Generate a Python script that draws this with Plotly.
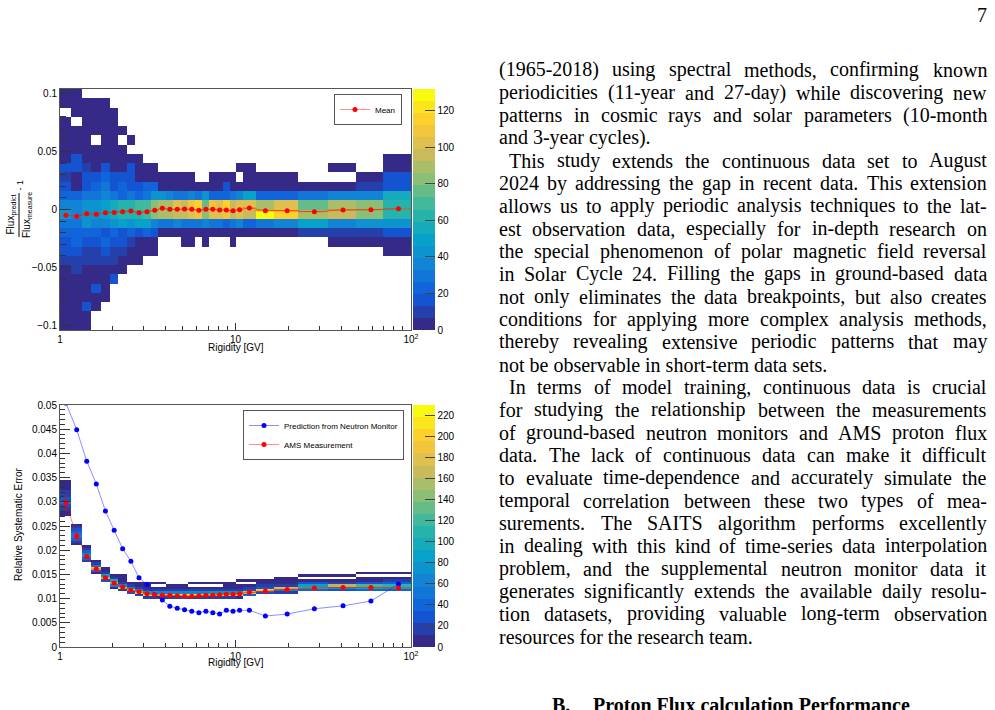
import numpy as np
import plotly.graph_objects as go

W, H = 995, 710

# ---------------------------------------------------------------- data
rigidity_edges = [1.00, 1.16, 1.33, 1.51, 1.71, 1.92, 2.15, 2.40, 2.67, 2.97, 3.29,
                  3.64, 4.02, 4.43, 4.88, 5.37, 5.90, 6.47, 7.09, 7.76, 8.48, 9.26,
                  10.1, 11.0, 13.0, 16.6, 22.8, 33.5, 48.5, 69.7, 100.0]
rigidity_tickvals = [1, 10, 100]
rigidity_ticktext = ["1", "10", "10<sup>2</sup>"]

# upper panel: Flux_predict/Flux_measure - 1 (26 bins from -0.104 to 0.104)
ratio_edges = np.linspace(-0.104, 0.104, 27)
# rows listed from the top bin (0.096..0.104) down to the bottom bin; 0 = empty
ratio_counts = [
    [3, 3] + [0] * 28,
    [3, 3, 3, 3, 3] + [0] * 25,
    [0, 3, 3, 3, 3, 3] + [0] * 24,
    [3, 0, 3, 3, 3, 3] + [0] * 24,
    [3] * 7 + [0] * 23,
    [3, 3, 3, 0, 3, 3, 0, 3] + [0] * 22,
    [3] * 7 + [0] * 23,
    [3, 16, 3, 3, 3, 3, 3, 3, 3] + [0] * 20 + [3],
    [16, 16, 10, 3, 16, 3, 3, 16, 3, 3, 3] + [0] * 11 + [3, 3, 0, 0, 0, 3, 0, 3],
    [10, 3, 16, 16, 23, 16, 16, 16, 3, 3, 3, 3, 3, 3, 3, 3, 0, 0, 3, 3, 3, 3, 0, 3, 3, 3, 0, 0, 3, 16],
    [16, 3, 16, 23, 29, 16, 23, 16, 16, 23, 23, 3, 3, 3, 3, 3, 3, 3, 3, 3, 16, 3, 3, 3, 3, 3, 3, 3, 10, 16],
    [23, 23, 29, 29, 36, 29, 23, 29, 23, 29, 43, 43, 36, 29, 29, 36, 29, 43, 23, 23, 23, 29, 36, 49, 23, 23, 29, 36, 36, 56],
    [36, 36, 43, 43, 49, 56, 62, 62, 69, 69, 82, 89, 89, 102, 95, 109, 115, 76, 109, 102, 115, 95, 102, 102, 89, 102, 76, 89, 82, 62],
    [43, 36, 43, 43, 49, 56, 62, 62, 62, 69, 82, 89, 89, 95, 95, 102, 109, 82, 102, 102, 109, 95, 102, 95, 128, 115, 89, 95, 82, 62],
    [29, 29, 43, 36, 36, 43, 49, 43, 49, 49, 36, 29, 29, 36, 29, 29, 29, 36, 29, 29, 23, 29, 36, 23, 29, 36, 49, 36, 43, 43],
    [23, 23, 23, 23, 16, 23, 16, 23, 16, 23, 16, 3, 3, 3, 3, 3, 3, 3, 3, 3, 3, 3, 3, 3, 3, 3, 10, 10, 10, 16],
    [16, 23, 16, 16, 23, 16, 16, 10, 3, 3, 3, 0, 0, 0, 3, 3, 0, 3, 0, 0, 0, 3, 0, 0, 0, 0, 0, 3, 3, 3],
    [16, 16, 10, 10, 16, 10, 10, 3, 3, 3, 3] + [0] * 18 + [3],
    [10, 10, 10, 10, 10, 10, 3, 3, 3] + [0] * 21,
    [3, 10, 3, 3, 3, 3, 3] + [0] * 23,
    [3, 3, 3, 3, 3, 16] + [0] * 24,
    [3, 3, 3, 16, 3] + [0] * 25,
    [3] * 5 + [0] * 25,
    [3, 3, 16, 3] + [0] * 26,
    [3, 3, 3] + [0] * 27,
    [3, 3, 3] + [0] * 27,
]
mean_ratio = [-0.0050, -0.0059, -0.0037, -0.0042, -0.0028, -0.0025, -0.0019, -0.0013,
              -0.0028, -0.0019, -0.0007, 0.0010, 0.0002, 0.0002, 0.0004, 0.0002,
              -0.0007, 0.0002, 0.0002, -0.0004, -0.0004, -0.0010, -0.0002, 0.0013,
              -0.0010, -0.0010, -0.0019, -0.0004, -0.0002, 0.0007]
mean_ratio_err = [0.0015, 0.0015, 0.0012, 0.0012, 0.0010, 0.0008] + [0.0005] * 24
ratio_zmax = 132

# lower panel: relative systematic error (100 bins from 0 to 0.05)
syst_edges = np.linspace(0.0, 0.05, 101)
syst_first_bin = [54, 42, 35, 30, 27, 24, 23, 22, 21, 20, 20, 20, 20, 20, 20,
                  20, 20, 20, 20, 20, 20, 20, 20, 21, 22, 22, 23, 23, 23, 23]
syst_counts = [
    [6, 10, 15, 22, 33, 38, 30, 24, 18, 14, 12, 10, 8, 6, 5],
    [8, 20, 35, 48, 50, 38, 25, 14, 8],
    [15, 40, 85, 60, 35, 15, 6],
    [8, 40, 190, 50, 12, 5],
    [25, 200, 90, 15, 8, 4],
    [10, 60, 190, 100, 14, 5],
    [20, 210, 60, 12, 6, 4, 3],
    [25, 200, 60, 12, 5],
    [20, 210, 60, 12, 6, 3],
    [15, 200, 70, 15, 8, 5, 3],
    [15, 205, 70, 14, 7, 0, 3],
    [18, 210, 68, 12, 6, 0, 3],
    [20, 215, 66, 12, 6, 4],
    [22, 215, 64, 12, 6, 4],
    [25, 210, 62, 12, 6, 4],
    [22, 215, 64, 12, 6, 0, 3],
    [20, 215, 66, 12, 6, 0, 3],
    [18, 210, 68, 13, 6, 0, 3],
    [16, 210, 70, 13, 6, 0, 3],
    [14, 205, 72, 14, 7, 0, 3],
    [12, 200, 74, 15, 7, 4, 3],
    [12, 195, 76, 15, 8, 4, 3],
    [10, 190, 70, 16, 8, 4, 0, 3],
    [40, 190, 30, 15, 8, 0, 4],
    [30, 200, 30, 12, 6, 3],
    [20, 60, 180, 20, 8, 5, 3],
    [40, 110, 90, 25, 10, 0, 4],
    [30, 80, 150, 20, 8, 0, 4],
    [40, 100, 120, 25, 10, 6, 0, 3],
    [35, 90, 110, 45, 12, 6, 0, 3],
]
ams_syst = [0.0298, 0.0229, 0.0187, 0.0161, 0.0143, 0.0132, 0.0124, 0.0117, 0.0114,
            0.0110, 0.0108, 0.0107, 0.0107, 0.0106, 0.0105, 0.0105, 0.0106, 0.0107,
            0.0107, 0.0108, 0.0109, 0.0109, 0.0110, 0.0113, 0.0115, 0.0119, 0.0122,
            0.0123, 0.0123, 0.0122]
ams_syst_err = [0.0017, 0.0008, 0.0004, 0.0003] + [0.00015] * 26
nm_syst = [0.0504, 0.0449, 0.0384, 0.0337, 0.0281, 0.0241, 0.0203, 0.0177, 0.0143,
           0.0129, 0.0108, 0.0097, 0.0084, 0.0080, 0.0077, 0.0074, 0.0071, 0.0074,
           0.0071, 0.0068, 0.0076, 0.0074, 0.0076, 0.0076, 0.0064, 0.0068, 0.0079,
           0.0085, 0.0095, 0.0130]
syst_zmax = 230

# page text
page_number = "7"
page_lines = [
    ("(1965-2018) using spectral methods, confirming known", False, True),
    ("periodicities (11-year and 27-day) while discovering new", False, True),
    ("patterns in cosmic rays and solar parameters (10-month", False, True),
    ("and 3-year cycles).", False, False),
    ("This study extends the continuous data set to August", True, True),
    ("2024 by addressing the gap in recent data. This extension", False, True),
    ("allows us to apply periodic analysis techniques to the lat-", False, True),
    ("est observation data, especially for in-depth research on", False, True),
    ("the special phenomenon of polar magnetic field reversal", False, True),
    ("in Solar Cycle 24. Filling the gaps in ground-based data", False, True),
    ("not only eliminates the data breakpoints, but also creates", False, True),
    ("conditions for applying more complex analysis methods,", False, True),
    ("thereby revealing extensive periodic patterns that may", False, True),
    ("not be observable in short-term data sets.", False, False),
    ("In terms of model training, continuous data is crucial", True, True),
    ("for studying the relationship between the measurements", False, True),
    ("of ground-based neutron monitors and AMS proton flux", False, True),
    ("data. The lack of continuous data can make it difficult", False, True),
    ("to evaluate time-dependence and accurately simulate the", False, True),
    ("temporal correlation between these two types of mea-", False, True),
    ("surements. The SAITS algorithm performs excellently", False, True),
    ("in dealing with this kind of time-series data interpolation", False, True),
    ("problem, and the supplemental neutron monitor data it", False, True),
    ("generates significantly extends the available daily resolu-", False, True),
    ("tion datasets, providing valuable long-term observation", False, True),
    ("resources for the research team.", False, False),
]
heading_num = "B."
heading_text = "Proton Flux calculation Performance"

# ---------------------------------------------------------------- helpers
SANS = "Liberation Sans, Arial, Helvetica, sans-serif"
SERIF = "Liberation Serif, Times New Roman, serif"


def fx(p):
    return p / W


def fy(p):
    return 1 - p / H


# ROOT kBird palette, 20 contour levels
bird_stops = [0.0, 0.125, 0.25, 0.375, 0.5, 0.625, 0.75, 0.875, 1.0]
bird_r = [0.2082, 0.0592, 0.0780, 0.0232, 0.1802, 0.5301, 0.8186, 0.9956, 0.9764]
bird_g = [0.1664, 0.3599, 0.5041, 0.6419, 0.7178, 0.7492, 0.7328, 0.7862, 0.9832]
bird_b = [0.5293, 0.8684, 0.8385, 0.7914, 0.6425, 0.4662, 0.3499, 0.1968, 0.0539]
NCONT = 20
colorscale = []
for i in range(NCONT):
    t = i / (NCONT - 1)
    r = int(round(255 * np.interp(t, bird_stops, bird_r)))
    g = int(round(255 * np.interp(t, bird_stops, bird_g)))
    b = int(round(255 * np.interp(t, bird_stops, bird_b)))
    c = f"rgb({r},{g},{b})"
    colorscale += [[i / NCONT, c], [(i + 1) / NCONT, c]]

centers = [(a + b) / 2 for a, b in zip(rigidity_edges[:-1], rigidity_edges[1:])]
err_hi = [b - c for b, c in zip(rigidity_edges[1:], centers)]
err_lo = [c - a for a, c in zip(rigidity_edges[:-1], centers)]

z_top = [[(v if v > 0 else None) for v in row] for row in ratio_counts[::-1]]

nx = len(centers)
nyb = len(syst_edges) - 1
z_bot = [[None] * nx for _ in range(nyb)]
for c, (s, cnts) in enumerate(zip(syst_first_bin, syst_counts)):
    for k, v in enumerate(cnts):
        if v > 0:
            z_bot[s + k][c] = v

fig = go.Figure()


def cbar(ytop, ybot, zmax):
    return dict(
        x=fx(413), xanchor="left", y=fy((ytop + ybot) / 2), yanchor="middle",
        len=ybot - ytop, lenmode="pixels", thickness=22, thicknessmode="pixels",
        xpad=0, ypad=0, outlinewidth=0, ticks="inside", ticklen=10,
        tickcolor="#444", tick0=0, dtick=20,
        tickfont=dict(size=10, family=SANS, color="black"),
    )


fig.add_trace(go.Heatmap(
    x=list(rigidity_edges), y=list(ratio_edges), z=z_top, zmin=0, zmax=ratio_zmax,
    colorscale=colorscale, colorbar=cbar(89, 330, ratio_zmax),
    hoverinfo="skip", xaxis="x", yaxis="y"))

fig.add_trace(go.Scatter(
    x=centers, y=mean_ratio, mode="lines+markers", name="Mean",
    line=dict(color="rgba(255,0,0,0.45)", width=1),
    marker=dict(color="red", size=5),
    error_x=dict(type="data", symmetric=False, array=err_hi, arrayminus=err_lo,
                 color="rgba(240,80,20,0.75)", thickness=1, width=0),
    error_y=dict(type="data", array=mean_ratio_err, color="red", thickness=1, width=0),
    legend="legend", xaxis="x", yaxis="y", hoverinfo="skip"))

fig.add_trace(go.Heatmap(
    x=list(rigidity_edges), y=list(syst_edges), z=z_bot, zmin=0, zmax=syst_zmax,
    colorscale=colorscale, colorbar=cbar(405, 647, syst_zmax),
    hoverinfo="skip", xaxis="x2", yaxis="y2"))

fig.add_trace(go.Scatter(
    x=centers, y=nm_syst, mode="lines+markers", name="Prediction from Neutron Monitor",
    line=dict(color="rgba(0,0,255,0.45)", width=1),
    marker=dict(color="blue", size=5),
    legend="legend2", xaxis="x2", yaxis="y2", hoverinfo="skip"))

fig.add_trace(go.Scatter(
    x=centers, y=ams_syst, mode="lines+markers", name="AMS Measurement",
    line=dict(color="rgba(255,0,0,0.45)", width=1),
    marker=dict(color="red", size=5),
    error_x=dict(type="data", symmetric=False, array=err_hi, arrayminus=err_lo,
                 color="rgba(240,80,20,0.75)", thickness=1, width=0),
    error_y=dict(type="data", array=ams_syst_err, color="red", thickness=1, width=0),
    legend="legend2", xaxis="x2", yaxis="y2", hoverinfo="skip"))

axis_common = dict(showline=True, mirror=True, linecolor="#555", linewidth=1,
                   ticks="inside", tickcolor="#333", showgrid=False, zeroline=False,
                   tickfont=dict(size=10, family=SANS, color="black"))
minor_r = [m * d for d in (1, 10) for m in range(2, 10)]


def xax(anchor):
    return dict(domain=[fx(60), fx(411)], type="log", range=[0, 2], anchor=anchor,
                tickmode="array", tickvals=rigidity_tickvals, ticktext=rigidity_ticktext,
                ticklen=7,
                minor=dict(tickmode="array", tickvals=minor_r, ticklen=4,
                           ticks="inside", tickcolor="#333"),
                **axis_common)


fig.update_layout(
    width=W, height=H, margin=dict(l=0, r=0, t=0, b=0, autoexpand=False),
    paper_bgcolor="white", plot_bgcolor="white",
    xaxis=xax("y"),
    yaxis=dict(domain=[fy(330), fy(89)], range=[-0.104, 0.104], anchor="x",
               tick0=0, dtick=0.05, ticklen=11,
               minor=dict(tick0=0, dtick=0.01, ticklen=6, ticks="inside", tickcolor="#333"),
               **axis_common),
    xaxis2=xax("y2"),
    yaxis2=dict(domain=[fy(647), fy(405)], range=[0, 0.05], anchor="x2",
                tick0=0, dtick=0.005, ticklen=10,
                minor=dict(tick0=0, dtick=0.001, ticklen=5, ticks="inside", tickcolor="#333"),
                **axis_common),
    legend=dict(x=fx(402), xanchor="right", y=fy(94), yanchor="top",
                bordercolor="#555", borderwidth=1, bgcolor="white",
                font=dict(size=8, family=SANS, color="black")),
    legend2=dict(x=fx(243), xanchor="left", y=fy(410), yanchor="top",
                 bordercolor="#555", borderwidth=1, bgcolor="white",
                 font=dict(size=8, family=SANS, color="black")),
    showlegend=True,
)

ann = []
shapes = []


def text(s, x, y, size, family=SANS, xanchor="center", angle=0, bold=False):
    ann.append(dict(text=(f"<b>{s}</b>" if bold else s), x=fx(x), y=fy(y),
                    xref="paper", yref="paper", showarrow=False,
                    xanchor=xanchor, yanchor="middle", textangle=angle,
                    borderpad=0, borderwidth=0,
                    font=dict(size=size, family=family, color="black")))


# axis titles
text("Rigidity [GV]", 235.5, 347, 10)
text("Rigidity [GV]", 235.5, 662, 10)
text("Relative Systematic Error", 18, 525, 10, angle=-90)
text("Flux<sub>predict</sub>", 10.5, 215, 10, angle=-90)
text("Flux<sub>measure</sub>", 27, 215, 10, angle=-90)
text("- 1", 19.5, 185, 9, angle=-90)
shapes.append(dict(type="line", xref="paper", yref="paper", x0=fx(19), x1=fx(19),
                   y0=fy(193), y1=fy(237), line=dict(color="black", width=1)))

# page text (justified with Times metrics)
TIMES = {' ': 250, '(': 333, ')': 333, ',': 250, '-': 333, '.': 250, ':': 278, ';': 278,
         'A': 722, 'B': 667, 'C': 667, 'D': 722, 'E': 611, 'F': 556, 'G': 722, 'H': 722,
         'I': 333, 'J': 389, 'K': 722, 'L': 611, 'M': 889, 'N': 722, 'O': 722, 'P': 556,
         'Q': 722, 'R': 667, 'S': 556, 'T': 611, 'U': 722, 'V': 722, 'W': 944, 'X': 722,
         'Y': 722, 'Z': 611,
         'a': 444, 'b': 500, 'c': 444, 'd': 500, 'e': 444, 'f': 333, 'g': 500, 'h': 500,
         'i': 278, 'j': 278, 'k': 500, 'l': 278, 'm': 778, 'n': 500, 'o': 500, 'p': 500,
         'q': 500, 'r': 333, 's': 389, 't': 278, 'u': 500, 'v': 500, 'w': 722, 'x': 500,
         'y': 500, 'z': 444}
FS = 20


def tw(s):
    return sum(TIMES.get(ch, 500) for ch in s) / 1000 * FS


XL, XR, INDENT = 499, 987, 10
BASE0, LSTEP, BASESHIFT = 76.7, 22.66, 6.7
for i, (line, indent, justify) in enumerate(page_lines):
    yc = BASE0 + i * LSTEP - BASESHIFT
    x0 = XL + (INDENT if indent else 0)
    words = line.split(" ")
    if not justify or len(words) < 2:
        text(line, x0, yc, FS, family=SERIF, xanchor="left")
        continue
    widths = [tw(w) for w in words]
    gap = (XR - x0 - sum(widths)) / (len(words) - 1)
    x = x0
    for k, (w, wd) in enumerate(zip(words, widths)):
        if k == len(words) - 1:
            text(w, XR, yc, FS, family=SERIF, xanchor="right")
        else:
            text(w, x, yc, FS, family=SERIF, xanchor="left")
        x += wd + gap

text(page_number, 987, 15.3, FS, family=SERIF, xanchor="right")
text(heading_num, 552, 704.8, FS, family=SERIF, xanchor="left", bold=True)
text(heading_text, 593, 704.8, FS, family=SERIF, xanchor="left", bold=True)

fig.update_layout(annotations=ann, shapes=shapes)
fig.write_html("out.html",
               config={"displayModeBar": False, "staticPlot": True},
               post_script="document.body.style.margin='0';document.body.style.overflow='hidden';")
